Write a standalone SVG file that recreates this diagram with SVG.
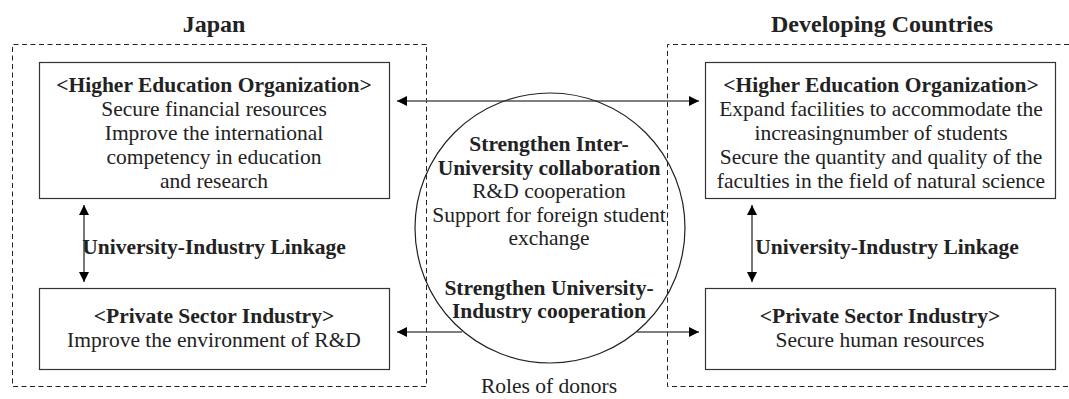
<svg xmlns="http://www.w3.org/2000/svg" width="1069" height="399" viewBox="0 0 1069 399">
  <style>
    text { font-family: "Liberation Serif", "Times New Roman", serif; font-size: 21.5px; fill: #222; text-anchor: middle; }
    .b { font-weight: bold; }
    .title { font-weight: bold; font-size: 24px; }
    .region { fill: none; stroke: #222; stroke-width: 1; stroke-dasharray: 5 3.5; }
    .box { fill: #fff; stroke: #333; stroke-width: 1.2; }
    .link { fill: none; stroke: #555; stroke-width: 1.6; }
    .ring { fill: none; stroke: #222; stroke-width: 1.2; }
  </style>
  <defs>
    <marker id="arrow" viewBox="0 0 10 10" refX="10" refY="5" markerWidth="6.5" markerHeight="6.5" orient="auto-start-reverse" markerUnits="strokeWidth">
      <path d="M0,0 L10,5 L0,10 z" fill="#000"/>
    </marker>
  </defs>

  <rect width="1069" height="399" fill="#fff"/>

  <!-- country regions -->
  <g id="japan-region">
    <path class="region" d="M426.5,44.5 H12.5 V386.5 H426.5 Z"/>
    <text class="title" x="214" y="32">Japan</text>
  </g>
  <g id="developing-region">
    <path class="region" d="M1069,44.5 H667.5 V386.5 H1069"/>
    <text class="title" x="882" y="32">Developing Countries</text>
  </g>

  <!-- connectors -->
  <g id="connectors">
    <line class="link" x1="397" y1="101" x2="699" y2="101" marker-start="url(#arrow)" marker-end="url(#arrow)"/>
    <line class="link" x1="462" y1="332" x2="397" y2="332" marker-end="url(#arrow)"/>
    <line class="link" x1="637" y1="332" x2="699" y2="332" marker-end="url(#arrow)"/>
    <line class="link" x1="84" y1="205" x2="84" y2="282" marker-start="url(#arrow)" marker-end="url(#arrow)"/>
    <line class="link" x1="752" y1="205" x2="752" y2="282" marker-start="url(#arrow)" marker-end="url(#arrow)"/>
    <text class="b" x="214" y="254">University-Industry Linkage</text>
    <text class="b" x="887" y="254">University-Industry Linkage</text>
  </g>

  <!-- Japan nodes -->
  <g id="jp-higher-education">
    <rect class="box" x="39.5" y="62.5" width="350" height="136"/>
    <text class="b" x="214" y="92">&lt;Higher Education Organization&gt;</text>
    <text x="214" y="116">Secure financial resources</text>
    <text x="214" y="140">Improve the international</text>
    <text x="214" y="164">competency in education</text>
    <text x="214" y="188">and research</text>
  </g>
  <g id="jp-private-sector">
    <rect class="box" x="39.5" y="288.5" width="350" height="81"/>
    <text class="b" x="214" y="323">&lt;Private Sector Industry&gt;</text>
    <text x="214" y="347">Improve the environment of R&amp;D</text>
  </g>

  <!-- Developing-country nodes -->
  <g id="dc-higher-education">
    <rect class="box" x="705.5" y="62.5" width="350" height="136"/>
    <text class="b" x="881" y="92">&lt;Higher Education Organization&gt;</text>
    <text x="881" y="116">Expand facilities to accommodate the</text>
    <text x="881" y="140">increasingnumber of students</text>
    <text x="881" y="164">Secure the quantity and quality of the</text>
    <text x="881" y="188">faculties in the field of natural science</text>
  </g>
  <g id="dc-private-sector">
    <rect class="box" x="705.5" y="288.5" width="350" height="81"/>
    <text class="b" x="880" y="323">&lt;Private Sector Industry&gt;</text>
    <text x="880" y="347">Secure human resources</text>
  </g>

  <!-- donor roles -->
  <g id="donor-roles">
    <circle class="ring" cx="550" cy="228" r="135"/>
    <text class="b" x="549" y="151">Strengthen Inter-</text>
    <text class="b" x="549" y="175">University collaboration</text>
    <text x="549" y="198">R&amp;D cooperation</text>
    <text x="549" y="222">Support for foreign student</text>
    <text x="549" y="245">exchange</text>
    <text class="b" x="549" y="295">Strengthen University-</text>
    <text class="b" x="549" y="318">Industry cooperation</text>
    <text x="549" y="393">Roles of donors</text>
  </g>
</svg>
